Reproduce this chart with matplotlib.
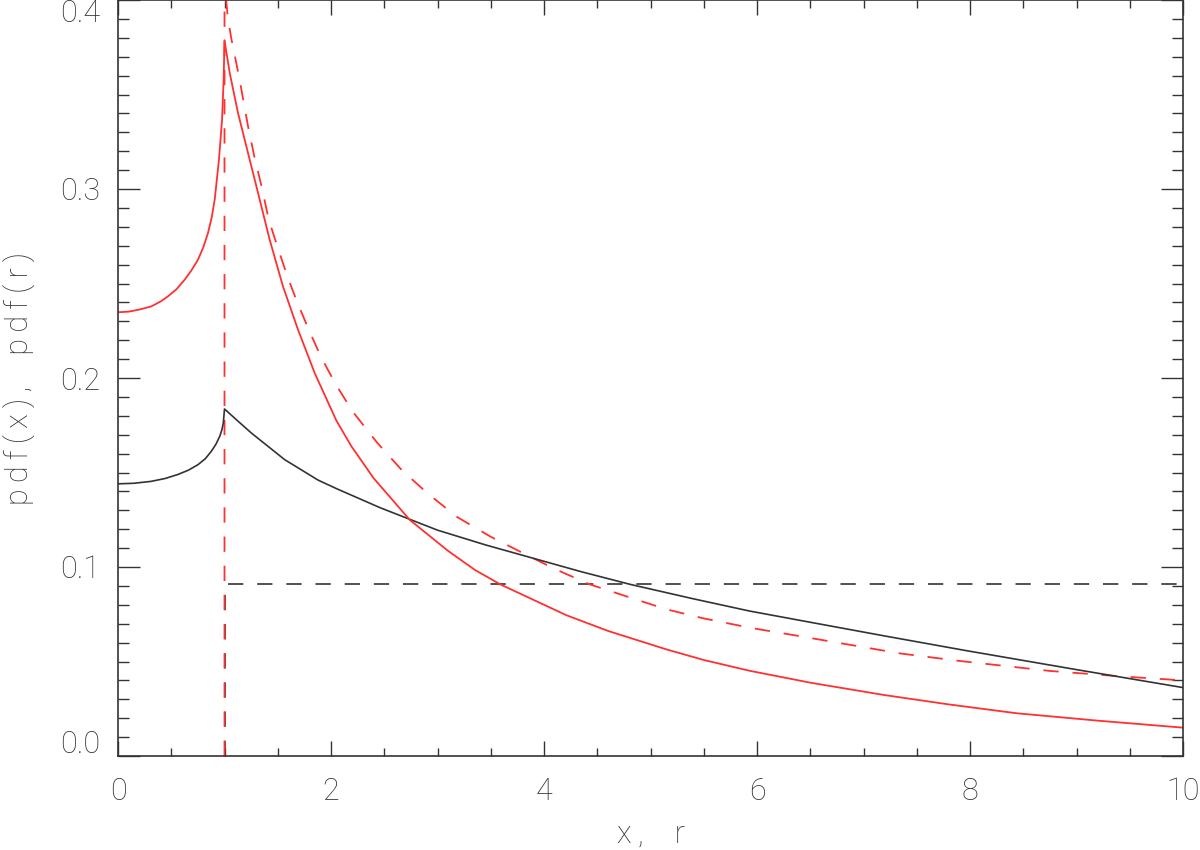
import matplotlib
matplotlib.use("Agg")
import matplotlib.pyplot as plt
from matplotlib.ticker import MultipleLocator

# values
black_x = [0.0, 0.15, 0.31, 0.44, 0.56, 0.66, 0.75, 0.82, 0.876, 0.92, 0.955, 0.975,
           0.989, 1.0, 1.12, 1.252, 1.565, 1.878, 2.05, 2.46, 2.65, 3.0, 3.45, 3.9,
           4.35, 4.81, 5.4, 5.93, 6.40, 7.2, 7.97, 9.0, 10.0]
black_y = [0.1440, 0.1443, 0.1453, 0.1468, 0.1489, 0.1512, 0.1541, 0.1573, 0.1612,
           0.1650, 0.1691, 0.1725, 0.1762, 0.1836, 0.1775, 0.1709, 0.1568, 0.1460,
           0.1415, 0.1314, 0.1272, 0.1195, 0.1117, 0.1046, 0.0975, 0.0908, 0.0832,
           0.0767, 0.0718, 0.0635, 0.0557, 0.0457, 0.0362]

red_x = [0.0, 0.1, 0.2, 0.313, 0.4, 0.469, 0.55, 0.626, 0.69, 0.751, 0.80, 0.845,
         0.88, 0.908, 0.948, 0.977, 0.992, 1.0, 1.049, 1.127, 1.221, 1.315, 1.424,
         1.549, 1.690, 1.847, 2.05, 2.19, 2.40, 2.74, 3.10, 3.35, 3.59, 4.21, 4.6,
         5.15, 5.5, 5.93, 6.5, 7.19, 7.8, 8.44, 9.2, 10.0]
red_y = [0.2348, 0.2351, 0.2362, 0.2379, 0.2405, 0.2432, 0.2470, 0.2520, 0.2570,
         0.2626, 0.2690, 0.2767, 0.2850, 0.2944, 0.3155, 0.3367, 0.3578, 0.3787,
         0.3614, 0.3402, 0.3190, 0.2979, 0.2732, 0.2485, 0.2256, 0.2026, 0.1775,
         0.1640, 0.1470, 0.1249, 0.1085, 0.0985, 0.0908, 0.0745, 0.0662, 0.0564,
         0.0508, 0.0451, 0.0388, 0.0323, 0.0273, 0.0226, 0.0187, 0.0150]

red_dash_x = [1.0, 1.0, 1.03, 1.064, 1.142, 1.221, 1.283, 1.352, 1.415, 1.496, 1.590,
              1.674, 1.784, 1.903, 2.034, 2.2, 2.43, 2.664, 2.9, 3.18, 3.5, 3.84, 4.1,
              4.43, 4.8, 5.15, 5.5, 5.93, 6.34, 7.34, 7.9, 8.75, 9.4, 10.0]
red_dash_y = [0.0, 0.41, 0.391, 0.3796, 0.3578, 0.3332, 0.3164, 0.3005, 0.2838,
              0.2697, 0.2538, 0.2414, 0.2265, 0.2115, 0.1977, 0.1825, 0.1660, 0.1513,
              0.1393, 0.1266, 0.1160, 0.1063, 0.0990, 0.0908, 0.0840, 0.0776, 0.0728,
              0.0679, 0.0640, 0.0543, 0.0503, 0.0450, 0.0422, 0.0400]

black_dash_x = [1.0, 1.0, 10.0]
black_dash_y = [0.0, 0.0908, 0.0908]

y_ticks = [0.0, 0.1, 0.2, 0.3, 0.4]

plt.rcParams["font.family"] = ["Roboto", "DejaVu Sans"]
plt.rcParams["lines.scale_dashes"] = False

ink = "#333333"
red = "#ff3030"
fs = 22

fig = plt.figure(figsize=(12, 8.5), dpi=100)
ax = fig.add_axes([118 / 1200, 94 / 850, 1065 / 1200, 756 / 850])

ax.plot(black_dash_x, black_dash_y, color=ink, lw=1.2, dashes=(11, 10))
ax.plot(red_dash_x, red_dash_y, color=red, lw=1.3, dashes=(11, 10))
ax.plot(black_x, black_y, color=ink, lw=1.2)
ax.plot(red_x, red_y, color=red, lw=1.3)

ax.set_xlim(0, 10)
ax.set_ylim(0, 0.4)
ax.xaxis.set_major_locator(MultipleLocator(2))
ax.xaxis.set_minor_locator(MultipleLocator(0.5))
ax.set_yticks(y_ticks)
ax.yaxis.set_minor_locator(MultipleLocator(0.01))
ax.xaxis.set_major_formatter(lambda v, p: f"{v:.0f}")
# end labels are drawn separately, pulled inside the axis like IDL does
ax.yaxis.set_major_formatter(lambda v, p: "" if v in (y_ticks[0], y_ticks[-1]) else f"{v:.1f}")

for s in ax.spines.values():
    s.set_color(ink)
    s.set_linewidth(1.2)

ax.tick_params(which="both", direction="in", top=True, right=True, color=ink,
               labelcolor=ink, labelsize=fs, width=1.0)
ax.tick_params(axis="x", which="major", length=11, pad=15)
ax.tick_params(axis="x", which="minor", length=6)
ax.tick_params(axis="y", which="major", length=16, pad=13)
ax.tick_params(axis="y", which="minor", length=8)
for lab in ax.get_xticklabels() + ax.get_yticklabels():
    lab.set_fontweight("light")

for v, dy in [(y_ticks[0], 8), (y_ticks[-1], -10)]:
    ax.annotate(f"{v:.1f}", xy=(0, v), xycoords=("axes fraction", "data"),
                xytext=(-13, dy), textcoords="offset points", ha="right", va="center",
                fontsize=fs, color=ink, fontweight="light")

ts = "\u2009"
ax.set_xlabel(ts.join("x,") + "\u2003" + "r", fontsize=fs, color=ink,
              fontweight="light", labelpad=10)
ax.set_ylabel(ts.join("pdf(x),") + "\u2003" + ts.join("pdf(r)"), fontsize=fs,
              color=ink, fontweight="light", labelpad=18)

fig.savefig("out.png", dpi=100)
